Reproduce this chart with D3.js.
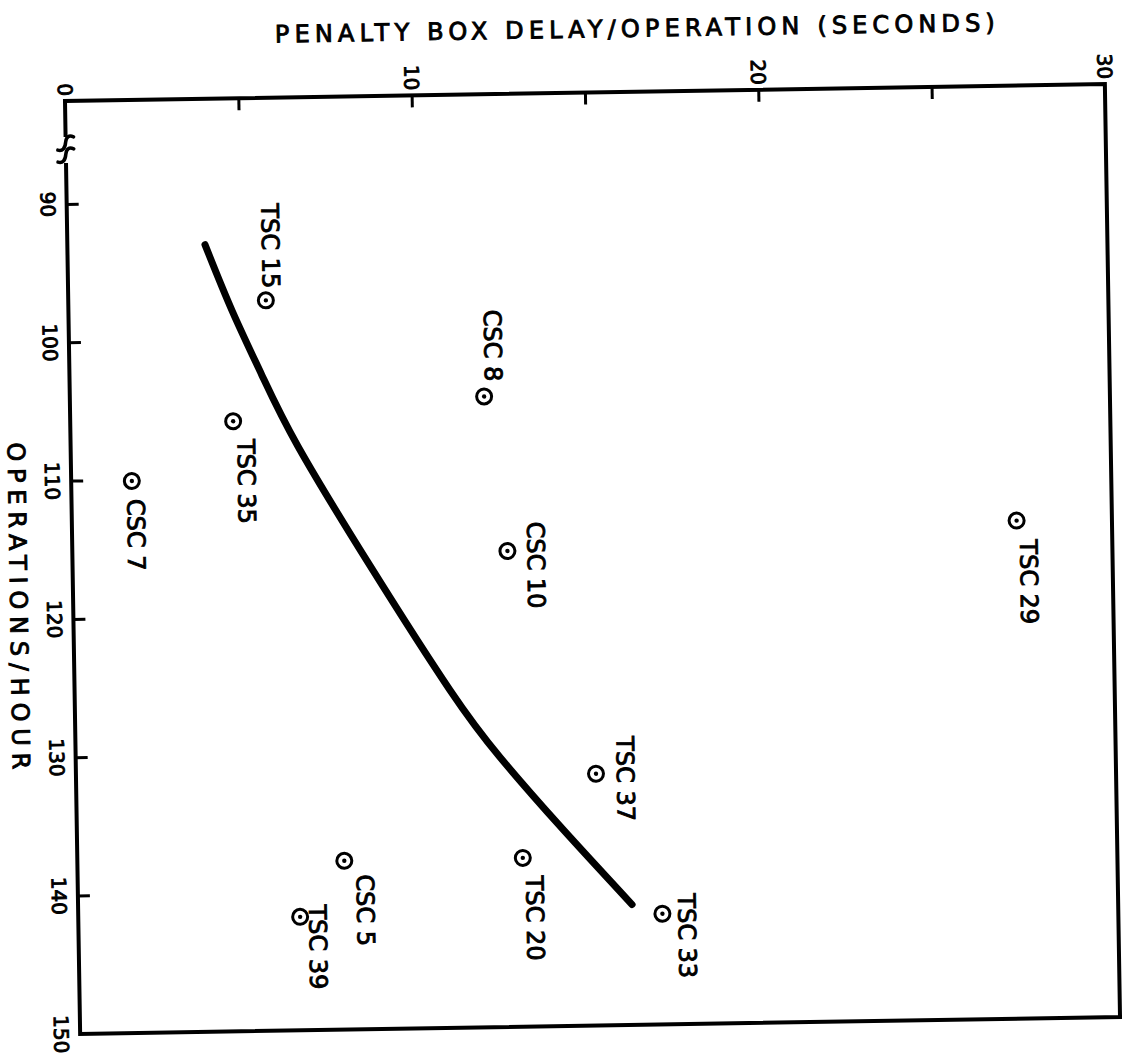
<!DOCTYPE html>
<html>
<head>
<meta charset="utf-8">
<title>Penalty box delay vs operations/hour</title>
<style>
  body { margin: 0; background: #fff; }
  svg text { font-family: "DejaVu Sans", sans-serif; fill: #000; }
  .frame { fill: none; stroke: #000; stroke-width: 4px; stroke-linejoin: miter; }
  .brk { fill: none; stroke: #000; stroke-width: 3.5px; stroke-linecap: round; }
  .fit { fill: none; stroke: #000; stroke-width: 7px; stroke-linecap: round; }
  .ring { fill: #fff; stroke: #000; stroke-width: 3px; }
  .dot { fill: #000; }
  .lbl { font-size: 24px; stroke: #000; stroke-width: 0.9px; }
  .tlbl { font-size: 20px; stroke: #000; stroke-width: 0.9px; }
</style>
<script src="https://cdn.jsdelivr.net/npm/d3@7"></script>
</head>
<body>
<script>
// sites plotted (delay in seconds, operations per hour)
var stations = ["TSC 15", "CSC 8", "TSC 35", "CSC 7", "CSC 10", "TSC 29",
                "TSC 37", "TSC 20", "TSC 33", "CSC 5", "TSC 39"];
var delaySec = [5.7, 11.95, 4.7, 1.75, 12.55, 27.25, 15.0, 12.85, 16.85, 7.7, 6.4];
var opsPerHour = [97.2, 104.4, 105.9, 110.1, 115.6, 114.0, 131.8, 137.8, 142.0, 137.8, 141.8];

// hand drawn fit curve
var curveDelay = [3.97, 4.72, 5.55, 6.56, 8.58, 10.83, 12.24, 13.94, 15.98];
var curveOps = [93.1, 97.9, 102.6, 107.8, 116.5, 125.6, 130.5, 135.55, 141.3];

var xTicks = [0, 10, 20, 30];
var xMinor = [5, 10, 15, 20, 25];
var yTicks = [90, 100, 110, 120, 130, 140, 150];

var xTitle = "PENALTY BOX DELAY/OPERATION (SECONDS)";
var yTitle = "OPERATIONS/HOUR";

// label placement around each circle: [dx, dy, anchor]
var labelPos = {
  "TSC 15": [-3, -12, "end"],
  "CSC 8": [1, -15, "end"],
  "TSC 35": [4, 18, "start"],
  "CSC 7": [-5, 18, "start"],
  "CSC 10": [20, -29, "start"],
  "TSC 29": [3, 19, "start"],
  "TSC 37": [21, -37, "start"],
  "TSC 20": [3, 18, "start"],
  "TSC 33": [16, -20, "start"],
  "CSC 5": [12, 14, "start"],
  "TSC 39": [9, -12, "start"]
};

var width = 1040, height = 933;
var origin = {x: 65, y: 101};

var svg = d3.select("body").append("svg")
    .attr("width", 1122)
    .attr("height", 1064);

// the scanned sheet sits slightly tilted
var g = svg.append("g")
    .attr("transform", "translate(" + origin.x + "," + origin.y + ") rotate(-0.93)");

var x = d3.scaleLinear().domain([0, 30]).range([0, width]);
var y = d3.scaleLinear().domain([90, 150]).range([103, height]);

var breakTop = 36, breakBot = 62;

// frame
g.append("path")
    .attr("class", "frame")
    .attr("d", "M0," + breakTop + " V0 H" + width + " V" + height + " H0 V" + breakBot);

// axis break marks
[43, 55].forEach(function(c) {
  g.append("path")
      .attr("class", "brk")
      .attr("d", "M8," + (c - 7) + " Q1," + (c - 10) + " 0," + (c - 2) +
                 " Q-1," + (c + 8) + " -8," + (c + 6));
});

// top axis ticks
var xAxis = g.append("g")
    .call(d3.axisTop(x).tickValues(xMinor).tickSize(-12).tickFormat(""));
xAxis.select(".domain").remove();
xAxis.selectAll("line").attr("stroke", "#000").attr("stroke-width", 3);

g.selectAll(".xlbl")
    .data(xTicks)
    .enter().append("text")
    .attr("class", "tlbl")
    .attr("text-anchor", "end")
    .attr("transform", function(d) { return "translate(" + (x(d) - 7) + ",-5) rotate(90)"; })
    .text(function(d) { return d; });

// left axis ticks
var yAxis = g.append("g")
    .call(d3.axisLeft(y).tickValues(yTicks.slice(0, -1)).tickSize(-12).tickFormat(""));
yAxis.select(".domain").remove();
yAxis.selectAll("line").attr("stroke", "#000").attr("stroke-width", 3);

g.selectAll(".ylbl")
    .data(yTicks)
    .enter().append("text")
    .attr("class", "tlbl")
    .attr("text-anchor", "middle")
    .attr("transform", function(d) { return "translate(-26," + y(d) + ") rotate(90)"; })
    .text(function(d) { return d; });

// titles
g.append("text")
    .attr("class", "lbl")
    .attr("x", 571)
    .attr("y", -55)
    .attr("text-anchor", "middle")
    .attr("textLength", 720)
    .attr("lengthAdjust", "spacing")
    .text(xTitle);

g.append("text")
    .attr("class", "lbl")
    .attr("text-anchor", "middle")
    .attr("transform", "translate(-63,504) rotate(90)")
    .attr("textLength", 327)
    .attr("lengthAdjust", "spacing")
    .text(yTitle);

// fitted curve
var line = d3.line()
    .x(function(d, i) { return x(curveDelay[i]); })
    .y(function(d, i) { return y(curveOps[i]); })
    .curve(d3.curveNatural);

g.append("path")
    .datum(curveDelay)
    .attr("class", "fit")
    .attr("d", line);

// site markers
var pts = g.selectAll(".pt")
    .data(stations)
    .enter().append("g")
    .attr("class", "pt")
    .attr("transform", function(d, i) { return "translate(" + x(delaySec[i]) + "," + y(opsPerHour[i]) + ")"; });

pts.append("circle").attr("class", "ring").attr("r", 7.5);
pts.append("circle").attr("class", "dot").attr("r", 2.2);

pts.append("text")
    .attr("class", "lbl")
    .attr("text-anchor", function(d) { return labelPos[d][2]; })
    .attr("transform", function(d) { return "translate(" + labelPos[d][0] + "," + labelPos[d][1] + ") rotate(90)"; })
    .text(function(d) { return d; });
</script>
</body>
</html>
